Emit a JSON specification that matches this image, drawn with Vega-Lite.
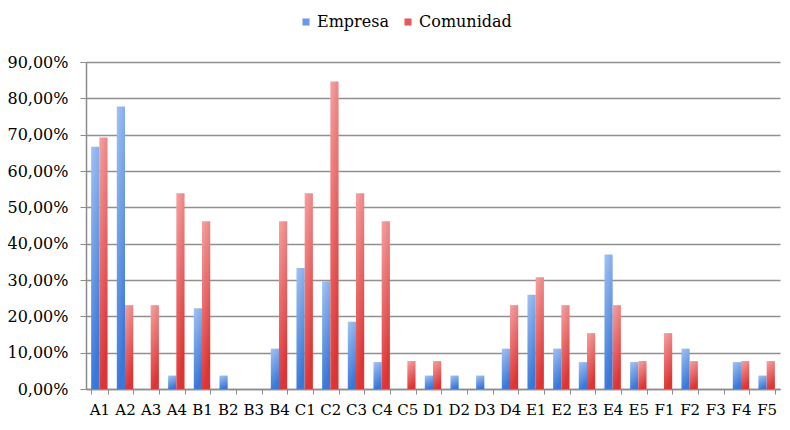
{
  "$schema": "https://vega.github.io/schema/vega-lite/v6.json",
  "width": 694,
  "height": 327,
  "autosize": {"type": "none"},
  "padding": {"left": 86, "top": 62, "right": 10, "bottom": 41},
  "background": "white",
  "data": {
    "values": [
      {"cat": "A1", "serie": "Empresa", "v": 0.6667}, {"cat": "A1", "serie": "Comunidad", "v": 0.6923},
      {"cat": "A2", "serie": "Empresa", "v": 0.7778}, {"cat": "A2", "serie": "Comunidad", "v": 0.2308},
      {"cat": "A3", "serie": "Empresa", "v": 0}, {"cat": "A3", "serie": "Comunidad", "v": 0.2308},
      {"cat": "A4", "serie": "Empresa", "v": 0.037}, {"cat": "A4", "serie": "Comunidad", "v": 0.5385},
      {"cat": "B1", "serie": "Empresa", "v": 0.2222}, {"cat": "B1", "serie": "Comunidad", "v": 0.4615},
      {"cat": "B2", "serie": "Empresa", "v": 0.037}, {"cat": "B2", "serie": "Comunidad", "v": 0},
      {"cat": "B3", "serie": "Empresa", "v": 0}, {"cat": "B3", "serie": "Comunidad", "v": 0},
      {"cat": "B4", "serie": "Empresa", "v": 0.1111}, {"cat": "B4", "serie": "Comunidad", "v": 0.4615},
      {"cat": "C1", "serie": "Empresa", "v": 0.3333}, {"cat": "C1", "serie": "Comunidad", "v": 0.5385},
      {"cat": "C2", "serie": "Empresa", "v": 0.2963}, {"cat": "C2", "serie": "Comunidad", "v": 0.8462},
      {"cat": "C3", "serie": "Empresa", "v": 0.1852}, {"cat": "C3", "serie": "Comunidad", "v": 0.5385},
      {"cat": "C4", "serie": "Empresa", "v": 0.0741}, {"cat": "C4", "serie": "Comunidad", "v": 0.4615},
      {"cat": "C5", "serie": "Empresa", "v": 0}, {"cat": "C5", "serie": "Comunidad", "v": 0.0769},
      {"cat": "D1", "serie": "Empresa", "v": 0.037}, {"cat": "D1", "serie": "Comunidad", "v": 0.0769},
      {"cat": "D2", "serie": "Empresa", "v": 0.037}, {"cat": "D2", "serie": "Comunidad", "v": 0},
      {"cat": "D3", "serie": "Empresa", "v": 0.037}, {"cat": "D3", "serie": "Comunidad", "v": 0},
      {"cat": "D4", "serie": "Empresa", "v": 0.1111}, {"cat": "D4", "serie": "Comunidad", "v": 0.2308},
      {"cat": "E1", "serie": "Empresa", "v": 0.2593}, {"cat": "E1", "serie": "Comunidad", "v": 0.3077},
      {"cat": "E2", "serie": "Empresa", "v": 0.1111}, {"cat": "E2", "serie": "Comunidad", "v": 0.2308},
      {"cat": "E3", "serie": "Empresa", "v": 0.0741}, {"cat": "E3", "serie": "Comunidad", "v": 0.1538},
      {"cat": "E4", "serie": "Empresa", "v": 0.3704}, {"cat": "E4", "serie": "Comunidad", "v": 0.2308},
      {"cat": "E5", "serie": "Empresa", "v": 0.0741}, {"cat": "E5", "serie": "Comunidad", "v": 0.0769},
      {"cat": "F1", "serie": "Empresa", "v": 0}, {"cat": "F1", "serie": "Comunidad", "v": 0.1538},
      {"cat": "F2", "serie": "Empresa", "v": 0.1111}, {"cat": "F2", "serie": "Comunidad", "v": 0.0769},
      {"cat": "F3", "serie": "Empresa", "v": 0}, {"cat": "F3", "serie": "Comunidad", "v": 0},
      {"cat": "F4", "serie": "Empresa", "v": 0.0741}, {"cat": "F4", "serie": "Comunidad", "v": 0.0769},
      {"cat": "F5", "serie": "Empresa", "v": 0.037}, {"cat": "F5", "serie": "Comunidad", "v": 0.0769}
    ]
  },
  "encoding": {
    "x": {
      "field": "cat", "type": "nominal", "sort": null, "title": null,
      "scale": {"paddingInner": 0.36, "paddingOuter": 0.2},
      "axis": {
        "labelAngle": 0, "labelFont": "DejaVu Serif", "labelFontSize": 15, "labelColor": "#000",
        "tickBand": "extent", "tickColor": "#8c8c8c", "tickSize": 5, "domainColor": "#8c8c8c", "domainWidth": 1.5,
        "labelPadding": 8, "grid": false
      }
    },
    "xOffset": {"field": "serie", "type": "nominal", "sort": ["Empresa", "Comunidad"], "scale": {"paddingInner": 0}},
    "y": {
      "field": "v", "type": "quantitative", "title": null,
      "scale": {"domain": [0, 0.9], "nice": false},
      "axis": {
        "values": [0, 0.1, 0.2, 0.3, 0.4, 0.5, 0.6, 0.7, 0.8, 0.9],
        "labelExpr": "replace(format(datum.value, '.2%'), '.', ',')",
        "labelFont": "DejaVu Serif", "labelFontSize": 16, "labelColor": "#000", "labelPadding": 12,
        "tickColor": "#8c8c8c", "tickSize": 6, "domainColor": "#8c8c8c", "domainWidth": 1.5,
        "gridColor": "#909090", "gridWidth": 1.6
      }
    }
  },
  "layer": [
    {
      "mark": {"type": "bar"},
      "encoding": {
        "fill": {
          "condition": {
            "test": "datum.serie === 'Empresa'",
            "value": {"gradient": "linear", "x1": 0, "y1": 0, "x2": 0.3, "y2": 1, "stops": [{"offset": 0, "color": "#a3c3f2"}, {"offset": 1, "color": "#3a78d8"}]}
          },
          "value": {"gradient": "linear", "x1": 0, "y1": 0, "x2": 0.3, "y2": 1, "stops": [{"offset": 0, "color": "#f4a3a3"}, {"offset": 1, "color": "#dd3535"}]}
        }
      }
    },
    {
      "mark": {"type": "point", "shape": "square", "filled": true, "opacity": 0},
      "encoding": {
        "color": {
          "field": "serie", "type": "nominal", "sort": ["Empresa", "Comunidad"],
          "scale": {"domain": ["Empresa", "Comunidad"], "range": ["#6a9be8", "#e8585c"]},
          "legend": {
            "title": null, "orient": "none", "direction": "horizontal", "legendX": 212, "legendY": -48,
            "symbolType": "square", "symbolSize": 50, "symbolOpacity": 1, "labelFont": "DejaVu Serif", "labelFontSize": 16,
            "labelColor": "#000", "columnPadding": 11, "symbolStrokeWidth": 0, "labelOffset": 3
          }
        }
      }
    }
  ],
  "config": {"view": {"stroke": null}}
}
